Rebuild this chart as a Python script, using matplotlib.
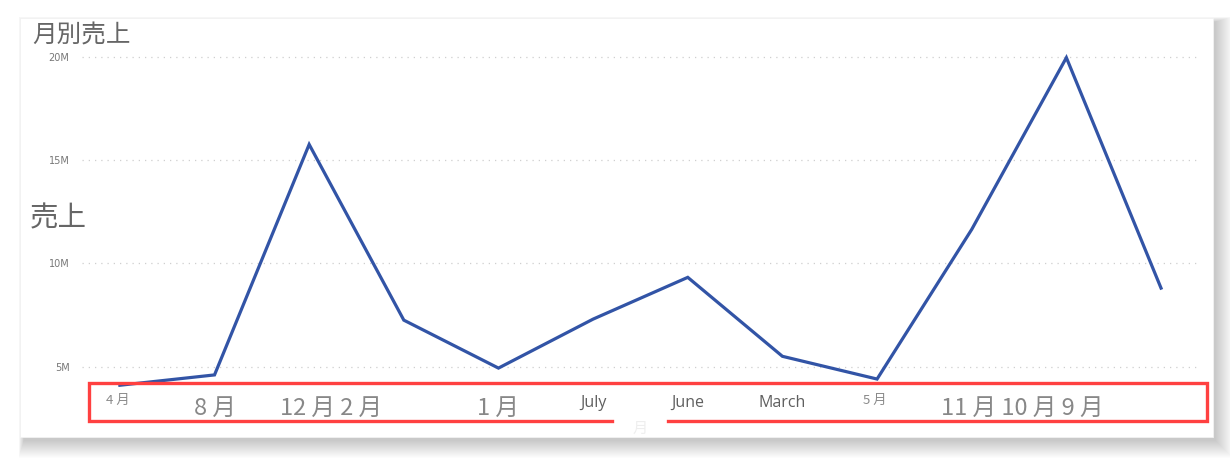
import numpy as np
import matplotlib.pyplot as plt
from matplotlib.patches import Rectangle
from matplotlib.lines import Line2D
from matplotlib.transforms import blended_transform_factory

plt.rcParams['font.family'] = ['Noto Sans CJK JP', 'DejaVu Sans']

W, H = 1230, 459

# data (monthly sales)
sales = [4.1, 4.6, 15.75, 7.25, 4.93, 7.3, 9.32, 5.5, 4.4, 11.64, 19.95, 8.8]  # millions
y_ticks = [5, 10, 15, 20]
y_tick_labels = ["5M", "10M", "15M", "20M"]

# jumbled category labels as they appear under the axis
x_labels = ["4 月", "8 月", "12 月 2 月", "1 月", "July", "June", "March", "5 月", "11 月 10 月 9 月"]
x_label_pos = [-0.02, 1.0, 2.23, 4.0, 5.0, 6.0, 7.0, 7.98, 9.53]
x_label_kind = ["small", "big", "big", "big", "en", "en", "en", "small", "big"]


def fx(px):
    return px / W


def fy(py):
    return 1 - py / H


fig = plt.figure(figsize=(W / 100, H / 100), dpi=100)
fig.patch.set_facecolor("white")

# soft card shadow + card
for i in range(18, 0, -1):
    grow = i * 1.0
    fig.add_artist(Rectangle((fx(24 - grow * 0.3), fy(440 + grow)),
                             fx(1191 + grow * 1.3), (418 + grow * 1.3) / H,
                             transform=fig.transFigure, facecolor="black",
                             alpha=0.010, edgecolor="none", zorder=0))
fig.add_artist(Rectangle((fx(20), fy(437)), fx(1193), 419 / H,
                         transform=fig.transFigure, facecolor="white",
                         edgecolor="#f2f2f2", lw=0.6, zorder=1))

ax = fig.add_axes([fx(82), fy(430), fx(1197 - 82), (430 - 50) / H])
ax.set_zorder(2)
ax.patch.set_alpha(0)

x = np.arange(len(sales))
ax.plot(x, sales, color="#3254A6", lw=2.3, solid_joinstyle="miter", zorder=3)

ax.set_xlim(-0.40, 11.38)
ax.set_ylim((470 - 430) / 20.67, (470 - 50) / 20.67)
ax.set_yticks(y_ticks)
ax.set_yticklabels(y_tick_labels, fontsize=7, color="#777777", family="DejaVu Sans")
ax.tick_params(axis="y", length=0, pad=9)
ax.set_xticks([])
ax.yaxis.grid(True, color="#cfcfcf", lw=0.9, linestyle=(0, (1, 4)))
for s in ax.spines.values():
    s.set_visible(False)

styles = {
    "small": dict(fontsize=9.5, color="#8a8a8a"),
    "big": dict(fontsize=17, color="#888888"),
    "en": dict(fontsize=11.5, color="#5f5f5f", family="Open Sans"),
}
label_y = {"small": 400, "big": 408, "en": 403}
tr = blended_transform_factory(ax.transData, fig.transFigure)
for lab, pos, kind in zip(x_labels, x_label_pos, x_label_kind):
    fig.text(pos, fy(label_y[kind]), lab, ha="center", va="center",
             transform=tr, zorder=6, **styles[kind])

# faint hidden label peeking below the box
fig.text(fx(640), fy(428), "月", fontsize=11, color="#eeeeee", ha="center", va="center")

# red annotation box (gap at the bottom)
red = "#FF4040"
bx0, bx1, by0, by1 = 89, 1207, 383, 421
pts = [(612, by1), (bx0, by1), (bx0, by0), (bx1, by0), (bx1, by1), (668, by1)]
fig.add_artist(Line2D([fx(p[0]) for p in pts], [fy(p[1]) for p in pts],
                      transform=fig.transFigure, color=red, lw=2.4,
                      solid_joinstyle="miter", zorder=5))

fig.text(fx(32), fy(36), "月別売上", fontsize=17.7, color="#666666", va="center")
fig.text(fx(30), fy(218), "売上", fontsize=20.5, color="#666666", va="center")

fig.savefig("out.png", dpi=100)
